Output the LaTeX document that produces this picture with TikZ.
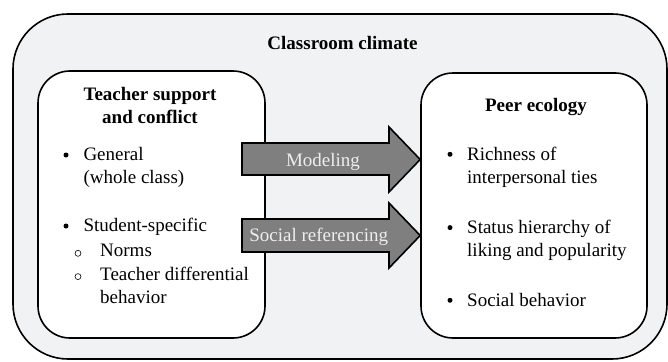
\documentclass[tikz,border=0pt]{standalone}
\usepackage{fontspec}
\setmainfont{Liberation Serif}
\definecolor{climatebg}{HTML}{F1F2F4}
\definecolor{arrowgray}{HTML}{7F7F7F}
\definecolor{labelgray}{HTML}{EEEEEE}
\begin{document}
\begin{tikzpicture}[x=1pt,y=-1pt,
  box/.style={draw=black, line width=1.6pt, inner sep=0pt},
  txt/.style={inner sep=0pt, font=\fontsize{19}{23}\selectfont, anchor=base west},
  heading/.style={inner sep=0pt, font=\fontsize{19}{23}\selectfont\bfseries, anchor=base},
  dot/.style={circle, fill=black, inner sep=0pt, minimum size=5pt},
  ring/.style={circle, draw=black, line width=0.6pt, inner sep=0pt, minimum size=6pt},
  blockarrow/.style={draw=black, line width=1.6pt, fill=arrowgray, line join=miter},
  arrowlabel/.style={inner sep=0pt, font=\fontsize{19}{23}\selectfont, text=labelgray, anchor=base}
]
\useasboundingbox (0,0) rectangle (668,361);

% containers
\node[box, fill=climatebg, rounded corners=55pt, minimum width=654pt, minimum height=345pt] (climate) at (340,186.5) {};
\node[box, fill=white, rounded corners=32pt, minimum width=227pt, minimum height=267pt] (teacher) at (151.5,204.5) {};
\node[box, fill=white, rounded corners=32pt, minimum width=226pt, minimum height=265pt] (peer) at (534,205.5) {};

\node[heading] (title) at (342.5,49) {Classroom climate};

% teacher side
\node[heading] (thead1) at (150,100) {Teacher support};
\node[heading] (thead2) at (150,123) {and conflict};
\node[dot] (b1) at (66,155) {};
\node[txt] (general1) at (83.3,160.7) {General};
\node[txt] (general2) at (83.3,183.3) {(whole class)};
\node[dot] (b2) at (66,226) {};
\node[txt] (student) at (83.3,231.7) {Student-specific};
\node[ring] (r1) at (78,253.3) {};
\node[txt] (norms) at (100,256.7) {Norms};
\node[ring] (r2) at (78,276.6) {};
\node[txt] (diff1) at (100,280) {Teacher differential};
\node[txt] (diff2) at (100,303) {behavior};

% peer side
\node[heading] (phead) at (536,111) {Peer ecology};
\node[dot] (p1) at (450,154.3) {};
\node[txt] (rich1) at (467,160) {Richness of};
\node[txt] (rich2) at (467,183.3) {interpersonal ties};
\node[dot] (p2) at (450,227.6) {};
\node[txt] (status1) at (467,233.3) {Status hierarchy of};
\node[txt] (status2) at (467,256.7) {liking and popularity};
\node[dot] (p3) at (450,300.3) {};
\node[txt] (social) at (467,306) {Social behavior};

% block arrows into the peer box
\coordinate (mtip) at (peer.west |- 0,159.5);
\coordinate (stip) at (peer.west |- 0,235.5);
\draw[blockarrow] (242,143) -- (389,143) -- (389,127) -- (mtip) -- (389,192) -- (389,175) -- (242,175) -- cycle;
\draw[blockarrow] (242,219) -- (389,219) -- (389,203) -- (stip) -- (389,268) -- (389,252) -- (242,252) -- cycle;
\node[arrowlabel] (modeling) at (323,166.7) {Modeling};
\node[arrowlabel] (referencing) at (318.7,241.7) {Social referencing};
\end{tikzpicture}
\end{document}
